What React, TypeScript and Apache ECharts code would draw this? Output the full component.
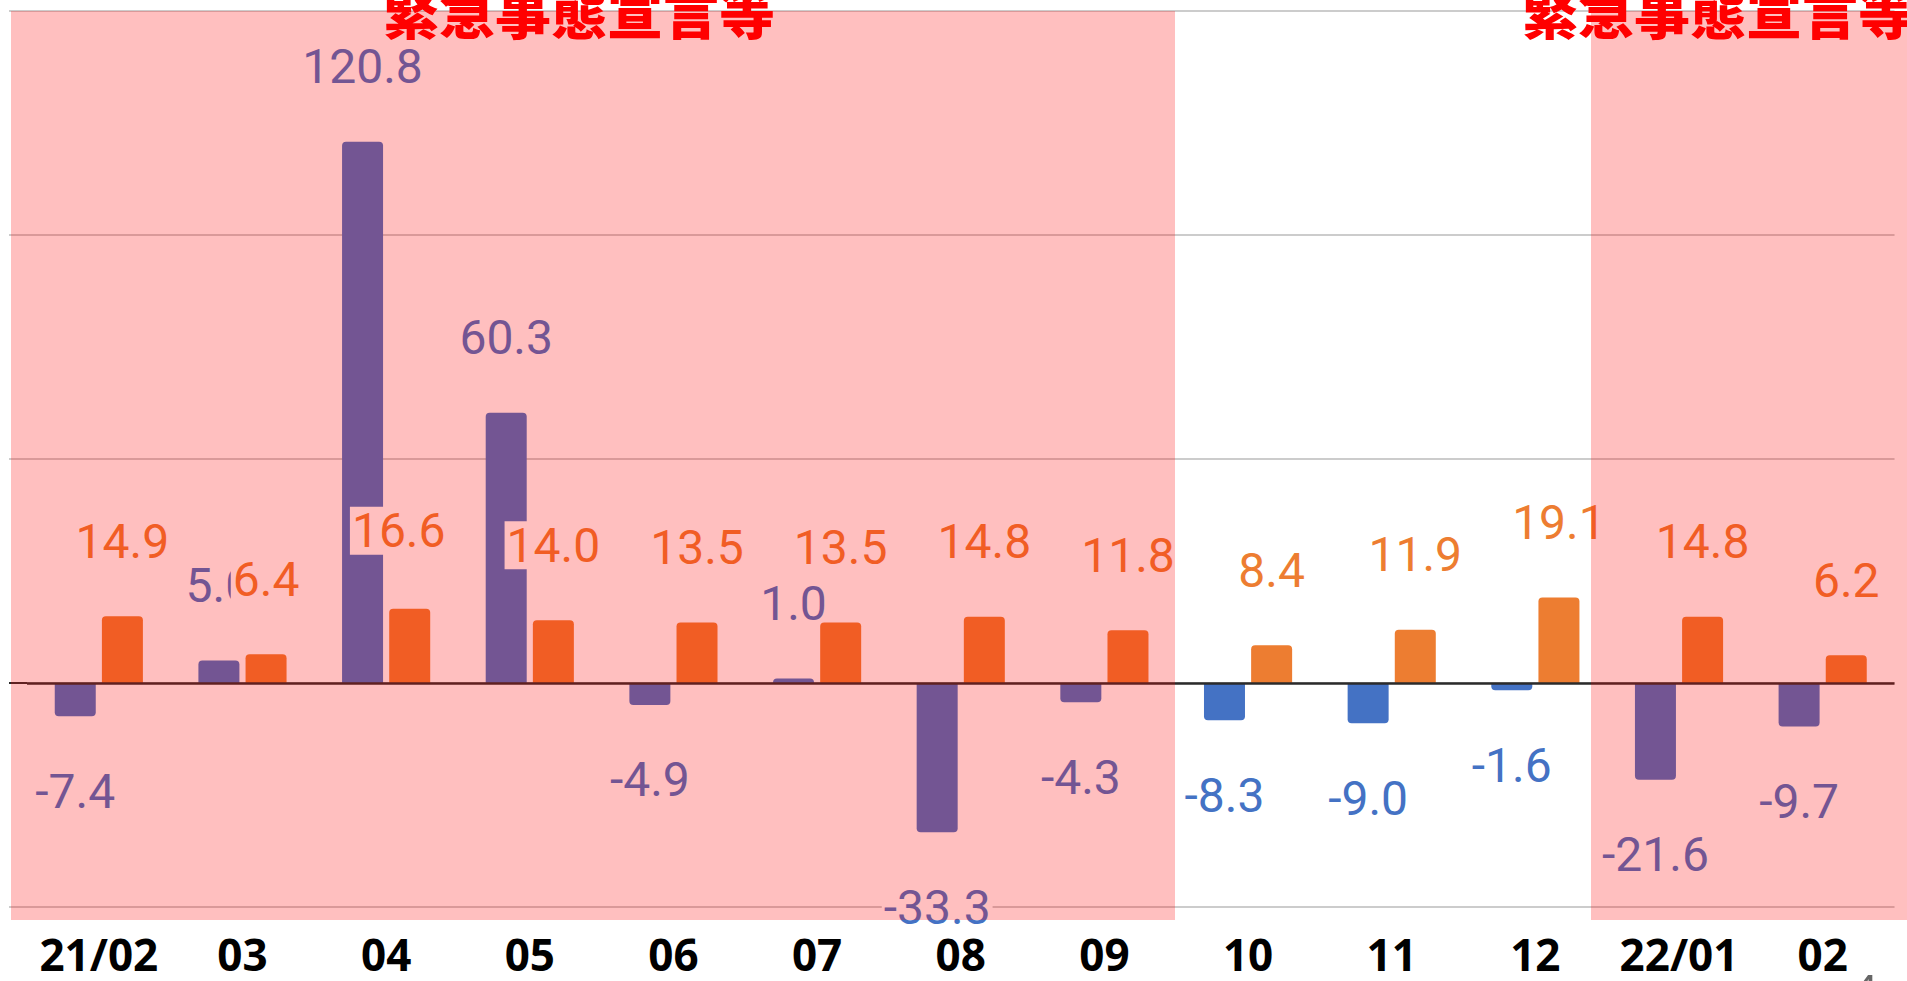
import React, { useEffect, useRef } from "react";
import * as echarts from "echarts";

const categories = ["21/02", "03", "04", "05", "06", "07", "08", "09", "10", "11", "12", "22/01", "02"];
const seriesA = [-7.4, 5.0, 120.8, 60.3, -4.9, 1.0, -33.3, -4.3, -8.3, -9.0, -1.6, -21.6, -9.7];
const seriesB = [14.9, 6.4, 16.6, 14.0, 13.5, 13.5, 14.8, 11.8, 8.4, 11.9, 19.1, 14.8, 6.2];
const yMin = -50;
const yMax = 150;
const yInterval = 50;
const bandTitle = "緊急事態宣言等";
const pageNumber = "4";

const BLUE = "#4472C4";
const ORANGE = "#ED7D31";
const OVERLAY = "rgba(255,0,0,0.25)";

function makeData(values: number[], offsets: Record<number, number[]> = {}) {
  return values.map((v, i) => ({
    value: v,
    label: {
      position: v >= 0 ? "top" : "bottom",
      ...(offsets[i] ? { offset: offsets[i] } : {}),
    },
    itemStyle: { borderRadius: v >= 0 ? [4, 4, 0, 0] : [0, 0, 4, 4] },
  }));
}

export default function App() {
  const ref = useRef<HTMLDivElement>(null);
  useEffect(() => {
    if (!ref.current) return;
    const chart = echarts.init(ref.current, null, { renderer: "svg" });
    const labelBase = {
      show: true,
      formatter: (p: any) => Number(p.value).toFixed(1),
      fontFamily: "Roboto",
      fontSize: 48,
      distance: 51,
      backgroundColor: "#ffffff",
      padding: [0, 2],
    };
    const gridYs = [11, 235, 459, 907];
    const ext: any[] = gridYs.map((y) => ({
      type: "line",
      shape: { x1: 9, y1: y, x2: 27, y2: y },
      style: { stroke: "#cccccc", lineWidth: 2 },
      z: 1,
      silent: true,
    }));
    ext.push({
      type: "line",
      shape: { x1: 9, y1: 683, x2: 27, y2: 683 },
      style: { stroke: "#2b2b2b", lineWidth: 2 },
      z: 1,
      silent: true,
    });
    const option: any = {
      animation: false,
      backgroundColor: "#ffffff",
      grid: { left: 27, right: 12.5, top: 11, bottom: 74, containLabel: false },
      xAxis: {
        type: "category",
        data: categories,
        axisLine: { show: false },
        axisTick: { show: false },
        axisLabel: {
          interval: 0,
          hideOverlap: false,
          color: "#000000",
          fontFamily: "Open Sans",
          fontWeight: "bold",
          fontSize: 44,
          lineHeight: 44,
          margin: 25,
        },
      },
      yAxis: {
        type: "value",
        min: yMin,
        max: yMax,
        interval: yInterval,
        axisLabel: { show: false },
        axisLine: { show: false },
        axisTick: { show: false },
        splitLine: { lineStyle: { color: "#cccccc", width: 2 } },
      },
      series: [
        {
          type: "bar",
          name: "系列1",
          data: makeData(seriesA),
          barWidth: 41,
          barGap: "15%",
          itemStyle: { color: BLUE },
          label: { ...labelBase, color: BLUE },
          markLine: {
            silent: true,
            symbol: "none",
            data: [{ yAxis: 0 }],
            label: { show: false },
            lineStyle: { color: "#2b2b2b", width: 2.5, type: "solid" },
          },
          z: 3,
        },
        {
          type: "bar",
          name: "系列2",
          data: makeData(seriesB, { 2: [-11, -3] }),
          barWidth: 41,
          barGap: "15%",
          itemStyle: { color: ORANGE },
          label: { ...labelBase, color: ORANGE },
          z: 4,
        },
      ],
      graphic: [
        ...ext,
        {
          type: "rect",
          shape: { x: 11, y: 11, width: 1164, height: 909 },
          style: { fill: OVERLAY },
          z: 100,
          silent: true,
        },
        {
          type: "rect",
          shape: { x: 1591, y: 11, width: 316, height: 909 },
          style: { fill: OVERLAY },
          z: 100,
          silent: true,
        },
        {
          type: "text",
          x: 383,
          y: 9,
          style: {
            text: bandTitle,
            fontFamily: "Noto Sans CJK JP",
            fontWeight: 900,
            fontSize: 56,
            fill: "#ff0000",
            verticalAlign: "middle",
            align: "left",
          },
          z: 110,
        },
        {
          type: "text",
          x: 1522,
          y: 9,
          style: {
            text: bandTitle,
            fontFamily: "Noto Sans CJK JP",
            fontWeight: 900,
            fontSize: 56,
            fill: "#ff0000",
            verticalAlign: "middle",
            align: "left",
          },
          z: 110,
        },
        {
          type: "text",
          x: 1850,
          y: 966,
          style: {
            text: pageNumber,
            fontFamily: "Open Sans",
            fontSize: 50,
            fill: "#666666",
            verticalAlign: "top",
          },
          z: 110,
        },
      ],
    };
    chart.setOption(option);
    return () => chart.dispose();
  }, []);
  return (
    <div
      ref={ref}
      style={{ position: "fixed", left: 0, top: 0, width: 1907, height: 981 }}
    />
  );
}
